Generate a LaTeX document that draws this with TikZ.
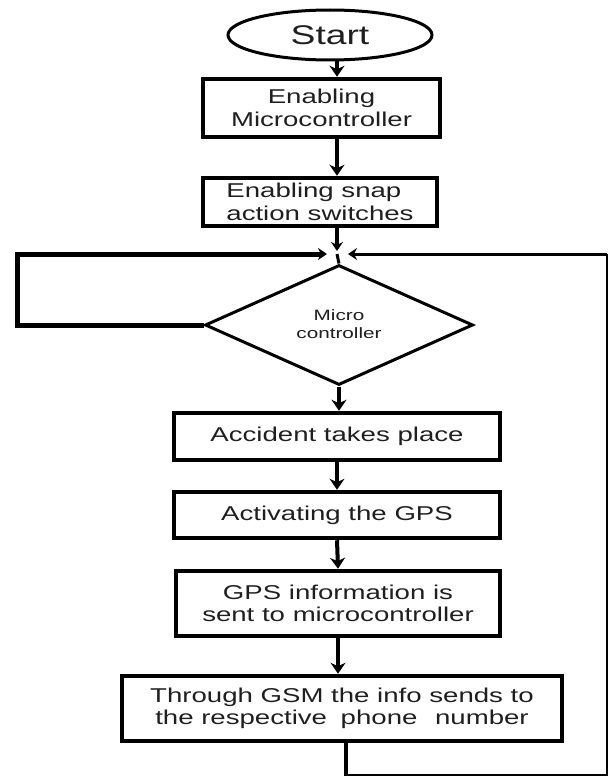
\documentclass[tikz,border=0pt]{standalone}
\usepackage{fontspec}
\setmainfont{Liberation Sans}[FakeStretch=1.38]
\usetikzlibrary{arrows.meta,shapes.geometric}

\begin{document}
\begin{tikzpicture}[x=1pt,y=-1pt,
  box/.style={draw, rectangle, line width=4.5pt, inner sep=0pt, align=center,
    font=\fontsize{20}{22.5}\selectfont, text=black!88},
  flow/.style={line width=4pt, -{Stealth[length=11pt,width=15pt,inset=3.5pt]}},
  joinarrow/.style={-{Stealth[length=9pt,width=12pt,inset=3pt]}},
]
\useasboundingbox (0,0) rectangle (613,776);

% terminal
\node[draw, ellipse, line width=3pt, minimum width=204pt, minimum height=50pt,
  inner sep=0pt, font=\fontsize{27}{30}\selectfont, text=black!88] (start) at (330,35) {Start};

% set-up steps
\node[box, minimum width=237pt, minimum height=58pt] (b1) at (321.5,108) {Enabling\\Microcontroller};
\node[box, align=left, minimum width=234pt, minimum height=48pt] (b2) at (320,202) {Enabling snap\\action switches};

% decision
\coordinate (J) at (337,254);
\node[draw, diamond, line width=3pt, minimum width=268pt, minimum height=120pt, inner sep=0pt] (dia) at (339,325) {};
\node[align=center, font=\fontsize{15}{18}\selectfont, text=black!88] (diatext) at (339,324) {Micro\\controller};

% action steps
\node[box, minimum width=326pt, minimum height=47pt] (b3) at (337,436.5) {Accident takes place};
\node[box, minimum width=326pt, minimum height=46pt] (b4) at (337,515) {Activating the GPS};
\node[box, minimum width=324pt, minimum height=65pt] (b5) at (338,603.5) {GPS information is\\sent to microcontroller};
\node[box, minimum width=440pt, minimum height=65pt] (b6) at (342,708.5)
  {Through GSM the info sends to\\the respective\hspace{6pt} phone\hspace{10pt} number};

% loop corners
\coordinate (L1) at (17,325);
\coordinate (L2) at (17,254);
\coordinate (B1) at (346,775);
\coordinate (R1) at (607,775);
\coordinate (R2) at (607,254);

% main flow
\draw[flow] (start.south -| J) -- (b1.north -| J);
\draw[flow] (b1.south -| J) -- (b2.north -| J);
\draw[line width=4pt, joinarrow] (b2.south -| J) -- ([yshift=3pt]J);
\draw[line width=3pt] (J) -- (dia.north);
\draw[flow] (dia.south) -- (b3.north -| dia.south);
\draw[flow] (b3.south) -- (b4.north);
\draw[flow] (b4.south) -- (b5.north);
\draw[flow] (b5.south) -- (b6.north -| b5.south);

% idle loop on the left
\draw[line width=5pt, line join=miter, joinarrow] (dia.west) -- (L1) -- (L2) -- ([xshift=-10pt]J);

% return loop on the right
\draw[line width=4.5pt] (b6.south -| B1) -- ([yshift=-1pt]B1);
\draw[line width=2pt, line join=miter] (B1) -- (R1) -- (R2);
\draw[line width=3pt, joinarrow] (R2) -- ([xshift=11pt]J);
\end{tikzpicture}
\end{document}
